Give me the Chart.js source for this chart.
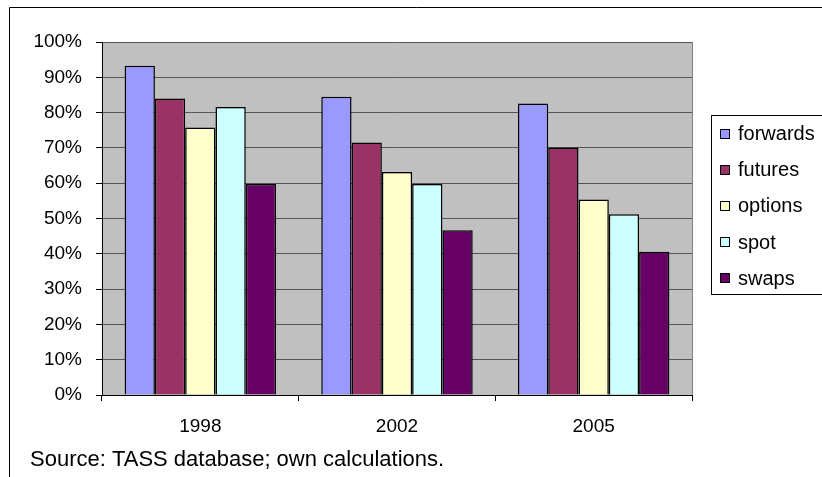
<!DOCTYPE html>
<html>
<head>
<meta charset="utf-8">
<script src="https://cdn.jsdelivr.net/npm/chart.js@4"></script>
<style>
  html, body { margin: 0; padding: 0; background: #fff; }
</style>
</head>
<body>
<canvas id="chart" width="822" height="477"></canvas>
<script>
// share of funds by instrument type, in percent
const years = ['1998', '2002', '2005'];
const forwards = [93.3, 84.5, 82.6];
const futures = [84.0, 71.5, 70.1];
const options = [75.8, 63.2, 55.4];
const spot = [81.6, 59.8, 51.2];
const swaps = [59.8, 46.7, 40.6];
const seriesNames = ['forwards', 'futures', 'options', 'spot', 'swaps'];
const seriesColors = ['#9999FF', '#993366', '#FFFFCC', '#CCFFFF', '#660066'];
const yTicks = [0, 10, 20, 30, 40, 50, 60, 70, 80, 90, 100];
const sourceNote = 'Source: TASS database; own calculations.';

const FONT = "'Liberation Sans', Arial, sans-serif";
Chart.defaults.font.family = FONT;

const seriesData = [forwards, futures, options, spot, swaps];

// gray plot area, white page, outer frame
const frame = {
  id: 'frame',
  beforeDraw(chart) {
    const { ctx, chartArea: a, width, height } = chart;
    ctx.save();
    ctx.fillStyle = '#fff';
    ctx.fillRect(0, 0, width, height);
    ctx.fillStyle = '#C0C0C0';
    ctx.fillRect(a.left, a.top, a.right - a.left, a.bottom - a.top);
    ctx.restore();
  },
  afterDraw(chart) {
    const { ctx, chartArea: a } = chart;
    ctx.save();
    // right edge of plot
    ctx.strokeStyle = '#808080';
    ctx.lineWidth = 1;
    ctx.beginPath();
    ctx.moveTo(Math.round(a.right) + 0.5, a.top);
    ctx.lineTo(Math.round(a.right) + 0.5, a.bottom);
    ctx.stroke();
    // chart frame
    ctx.strokeStyle = '#000';
    ctx.beginPath();
    ctx.moveTo(9.5, 480);
    ctx.lineTo(9.5, 7.5);
    ctx.lineTo(830, 7.5);
    ctx.stroke();

    // legend
    ctx.strokeStyle = '#000';
    ctx.strokeRect(711.5, 115.5, 120, 179);
    ctx.font = '20px ' + FONT;
    ctx.textBaseline = 'middle';
    ctx.textAlign = 'left';
    chart.data.datasets.forEach((ds, i) => {
      const cy = 133.5 + i * 36.2;
      ctx.fillStyle = ds.backgroundColor;
      ctx.fillRect(720.5, Math.round(cy - 5) + 0.5, 9, 9);
      ctx.strokeRect(720.5, Math.round(cy - 5) + 0.5, 9, 9);
      ctx.fillStyle = '#000';
      ctx.fillText(ds.label, 738, cy + 1);
    });

    // source note
    ctx.font = '22px ' + FONT;
    ctx.textBaseline = 'alphabetic';
    ctx.fillText(sourceNote, 30, 466);
    ctx.restore();
  }
};

new Chart(document.getElementById('chart'), {
  type: 'bar',
  data: {
    labels: years,
    datasets: seriesNames.map((name, i) => ({
      label: name,
      data: seriesData[i],
      backgroundColor: seriesColors[i],
      borderColor: '#000',
      borderWidth: 1.5,
      barPercentage: 1,
      categoryPercentage: 0.77
    }))
  },
  options: {
    responsive: false,
    animation: false,
    devicePixelRatio: 1,
    layout: { padding: { top: 42, right: 130, left: 0, bottom: 0 } },
    plugins: {
      legend: { display: false },
      tooltip: { enabled: false }
    },
    scales: {
      x: {
        grid: { offset: true, drawOnChartArea: false, drawTicks: true, tickLength: 6, tickColor: '#000' },
        border: { color: '#000', width: 1 },
        ticks: { color: '#000', font: { size: 19 }, padding: 14, maxRotation: 0 },
        afterFit(s) { s.height = 82; }
      },
      y: {
        min: 0,
        max: 100,
        afterBuildTicks(s) { s.ticks = yTicks.map(v => ({ value: v })); },
        ticks: { color: '#000', font: { size: 19 }, padding: 14, callback: v => v + '%' },
        grid: { color: '#555', tickColor: '#000', tickLength: 6 },
        border: { color: '#000', width: 1 },
        afterFit(s) { s.width = 102; }
      }
    }
  },
  plugins: [frame]
});
</script>
</body>
</html>
